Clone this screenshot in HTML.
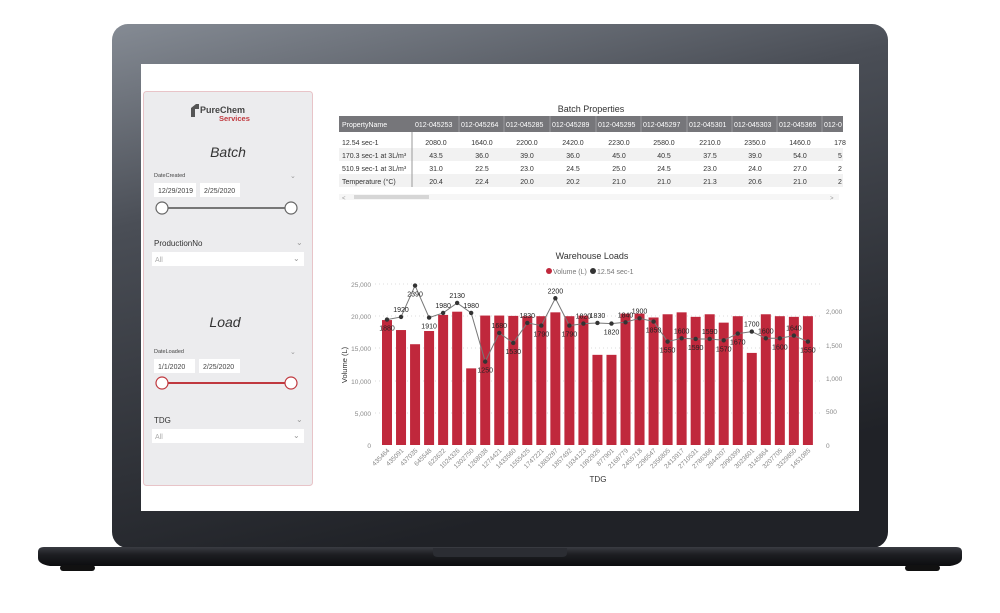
<!DOCTYPE html>
<html><head><meta charset="utf-8"><style>
html,body{margin:0;padding:0;background:#fff;}
svg{display:block;font-family:"Liberation Sans",sans-serif;}
</style></head><body>
<svg width="1000" height="613" viewBox="0 0 1000 613" xmlns="http://www.w3.org/2000/svg">
<defs>
<linearGradient id="lid" x1="0" y1="0" x2="0.35" y2="1">
<stop offset="0" stop-color="#858b94"/><stop offset="0.35" stop-color="#4a4e56"/><stop offset="1" stop-color="#202227"/>
</linearGradient>
<linearGradient id="base" x1="0" y1="0" x2="0" y2="1">
<stop offset="0" stop-color="#3a3c42"/><stop offset="0.4" stop-color="#1d1e22"/><stop offset="1" stop-color="#0c0d0f"/>
</linearGradient>
</defs>
<rect x="112" y="24" width="776" height="524" rx="16" fill="url(#lid)"/>
<rect x="141" y="64" width="718" height="447" fill="#fff"/>
<path d="M44 547 H956 Q962 547 962 552 V558 Q962 564 950 566 H50 Q38 564 38 558 V552 Q38 547 44 547Z" fill="url(#base)"/>
<rect x="60" y="565" width="35" height="6" rx="3" fill="#111"/>
<rect x="905" y="565" width="35" height="6" rx="3" fill="#111"/>
<path d="M433 548 H567 V553 Q567 557 562 557 H438 Q433 557 433 553Z" fill="#2b2d33"/>

<!-- sidebar -->
<rect x="143.5" y="91.5" width="169" height="394" rx="3" fill="#ececee" stroke="#e8c4c8"/>
<path d="M191 108 l5 -4 h3 v5 h-4 v8 h-4z" fill="#555"/>
<text x="200" y="113" font-size="9" font-weight="bold" fill="#444">PureChem</text>
<text x="219" y="121" font-size="7.5" font-weight="bold" fill="#c0393f">Services</text>
<text x="228" y="157" font-size="14" font-style="italic" fill="#333" text-anchor="middle">Batch</text>
<text x="154" y="177" font-size="5.5" fill="#444">DateCreated</text>
<text x="290" y="178" font-size="7" fill="#999">⌄</text>
<rect x="154" y="183" width="42" height="14" fill="#fff"/><text x="158" y="193" font-size="7" fill="#444">12/29/2019</text>
<rect x="200" y="183" width="40" height="14" fill="#fff"/><text x="204" y="193" font-size="7" fill="#444">2/25/2020</text>
<line x1="162" y1="208" x2="291" y2="208" stroke="#777" stroke-width="2"/>
<circle cx="162" cy="208" r="6" fill="#fff" stroke="#666" stroke-width="1.2"/>
<circle cx="291" cy="208" r="6" fill="#fff" stroke="#666" stroke-width="1.2"/>
<text x="154" y="246" font-size="8" fill="#333">ProductionNo</text>
<text x="296" y="245" font-size="8" fill="#999">⌄</text>
<rect x="152" y="252" width="152" height="14" fill="#fff"/><text x="155" y="262" font-size="7" fill="#aaa">All</text><text x="293" y="261" font-size="8" fill="#999">⌄</text>
<text x="225" y="327" font-size="14" font-style="italic" fill="#333" text-anchor="middle">Load</text>
<text x="154" y="353" font-size="5.5" fill="#444">DateLoaded</text>
<text x="290" y="354" font-size="7" fill="#999">⌄</text>
<rect x="154" y="359" width="41" height="14" fill="#fff"/><text x="158" y="369" font-size="7" fill="#444">1/1/2020</text>
<rect x="199" y="359" width="41" height="14" fill="#fff"/><text x="203" y="369" font-size="7" fill="#444">2/25/2020</text>
<line x1="162" y1="383" x2="291" y2="383" stroke="#c0393f" stroke-width="2"/>
<circle cx="162" cy="383" r="6" fill="#fff" stroke="#c0393f" stroke-width="1.2"/>
<circle cx="291" cy="383" r="6" fill="#fff" stroke="#c0393f" stroke-width="1.2"/>
<text x="154" y="423" font-size="8" fill="#333">TDG</text>
<text x="296" y="422" font-size="8" fill="#999">⌄</text>
<rect x="152" y="429" width="152" height="14" fill="#fff"/><text x="155" y="439" font-size="7" fill="#aaa">All</text><text x="293" y="438" font-size="8" fill="#999">⌄</text>

<!-- table -->
<text x="591" y="112" font-size="9" fill="#333" text-anchor="middle">Batch Properties</text>
<rect x="339" y="116" width="504" height="16" fill="#76767a"/>
<rect x="339" y="148" width="504" height="13" fill="#f2f2f2"/>
<rect x="339" y="174" width="504" height="13" fill="#f2f2f2"/>
<line x1="412" y1="132" x2="412" y2="187" stroke="#999"/>
<g font-size="7" fill="#fff">
<text x="342" y="127">PropertyName</text>
<text x="415" y="127">012-045253</text><text x="461" y="127">012-045264</text><text x="506" y="127">012-045285</text><text x="552" y="127">012-045289</text><text x="598" y="127">012-045295</text><text x="643" y="127">012-045297</text><text x="689" y="127">012-045301</text><text x="734" y="127">012-045303</text><text x="779" y="127">012-045365</text><text x="824" y="127">012-0</text>
</g>
<g stroke="#9a9a9e"><line x1="459" y1="116" x2="459" y2="132"/><line x1="504" y1="116" x2="504" y2="132"/><line x1="550" y1="116" x2="550" y2="132"/><line x1="596" y1="116" x2="596" y2="132"/><line x1="641" y1="116" x2="641" y2="132"/><line x1="687" y1="116" x2="687" y2="132"/><line x1="732" y1="116" x2="732" y2="132"/><line x1="777" y1="116" x2="777" y2="132"/><line x1="822" y1="116" x2="822" y2="132"/></g>
<g font-size="7" fill="#333">
<text x="342" y="145">12.54 sec-1</text><text x="342" y="158">170.3 sec-1 at 3L/m³</text><text x="342" y="171">510.9 sec-1 at 3L/m³</text><text x="342" y="184">Temperature (°C)</text>
</g>
<g font-size="7" fill="#333" text-anchor="middle">
<text x="436" y="145">2080.0</text><text x="482" y="145">1640.0</text><text x="527" y="145">2200.0</text><text x="573" y="145">2420.0</text><text x="619" y="145">2230.0</text><text x="664" y="145">2580.0</text><text x="710" y="145">2210.0</text><text x="755" y="145">2350.0</text><text x="800" y="145">1460.0</text><text x="840" y="145">178</text>
<text x="436" y="158">43.5</text><text x="482" y="158">36.0</text><text x="527" y="158">39.0</text><text x="573" y="158">36.0</text><text x="619" y="158">45.0</text><text x="664" y="158">40.5</text><text x="710" y="158">37.5</text><text x="755" y="158">39.0</text><text x="800" y="158">54.0</text><text x="840" y="158">5</text>
<text x="436" y="171">31.0</text><text x="482" y="171">22.5</text><text x="527" y="171">23.0</text><text x="573" y="171">24.5</text><text x="619" y="171">25.0</text><text x="664" y="171">24.5</text><text x="710" y="171">23.0</text><text x="755" y="171">24.0</text><text x="800" y="171">27.0</text><text x="840" y="171">2</text>
<text x="436" y="184">20.4</text><text x="482" y="184">22.4</text><text x="527" y="184">20.0</text><text x="573" y="184">20.2</text><text x="619" y="184">21.0</text><text x="664" y="184">21.0</text><text x="710" y="184">21.3</text><text x="755" y="184">20.6</text><text x="800" y="184">21.0</text><text x="840" y="184">2</text>
</g>
<rect x="339" y="194" width="500" height="6" fill="#f6f6f6"/><rect x="354" y="195" width="75" height="4" fill="#d6d6d6"/>
<text x="342" y="200" font-size="6" fill="#999">&lt;</text><text x="830" y="200" font-size="6" fill="#999">&gt;</text>

<!-- chart -->
<text x="592" y="259" font-size="9" fill="#333" text-anchor="middle">Warehouse Loads</text>
<circle cx="549" cy="271" r="3" fill="#c0283c"/><text x="553" y="274" font-size="7" fill="#777">Volume (L)</text>
<circle cx="593" cy="271" r="3" fill="#333"/><text x="597" y="274" font-size="7" fill="#777">12.54 sec-1</text>
<g stroke="#ddd" stroke-dasharray="1,3"><line x1="375" y1="284" x2="820" y2="284"/><line x1="375" y1="316" x2="820" y2="316"/><line x1="375" y1="348" x2="820" y2="348"/><line x1="375" y1="381" x2="820" y2="381"/><line x1="375" y1="413" x2="820" y2="413"/></g>
<g font-size="6.5" fill="#888" text-anchor="end">
<text x="371" y="287">25,000</text><text x="371" y="319">20,000</text><text x="371" y="351">15,000</text><text x="371" y="384">10,000</text><text x="371" y="416">5,000</text><text x="371" y="448">0</text>
</g>
<g font-size="6.5" fill="#888">
<text x="826" y="314">2,000</text><text x="826" y="348">1,500</text><text x="826" y="381">1,000</text><text x="826" y="414">500</text><text x="826" y="448">0</text>
</g>
<text transform="translate(347,365) rotate(-90)" font-size="7.5" fill="#333" text-anchor="middle">Volume (L)</text>
<text x="598" y="482" font-size="8" fill="#333" text-anchor="middle">TDG</text>
<g id="bars" fill="#c0283c"></g>
<g id="xl" font-size="6.5" fill="#888" text-anchor="end"></g>
<polyline id="ln" fill="none" stroke="#777" stroke-width="1"/>
<g id="pts" fill="#333"></g>
<g id="lbl" font-size="7" fill="#222" text-anchor="middle"></g>
<script>
var v=[19400,17850,15650,17700,20200,20700,11900,20100,20100,20050,20000,20000,20600,20000,20100,14000,14000,20400,20400,19800,20300,20600,19900,20300,19000,20000,14300,20300,20000,19900,20000];
var l=[1880,1920,2390,1910,1980,2130,1980,1250,1680,1530,1830,1790,2200,1790,1820,1830,1820,1840,1900,1850,1550,1600,1590,1590,1570,1670,1700,1600,1600,1640,1550];
var up=[0,1,0,0,1,1,1,0,1,0,1,0,1,0,1,1,0,1,1,0,0,1,0,1,0,0,1,1,0,1,0];
var n=["435464","435091","437035","645548","623622","1024326","1302750","1268038","1274421","1433560","1555425","1747221","1883287","1857492","1934123","1992926","877901","2168779","2455718","2296547","2356805","2413917","2710531","2786366","2844207","2990399","3023601","3145864","3207705","3329850","1451085"];
var ns="http://www.w3.org/2000/svg",b=document.getElementById("bars"),x=document.getElementById("xl"),p=document.getElementById("pts"),lb=document.getElementById("lbl"),pts=[];
function el(t,a,par,txt){var e=document.createElementNS(ns,t);for(var k in a)e.setAttribute(k,a[k]);if(txt)e.textContent=txt;par.appendChild(e);}
for(var i=0;i<31;i++){var cx=387+i*14.03;var h=v[i]/25000*161;
el("rect",{x:cx-5,y:445-h,width:10,height:h},b);
el("text",{transform:"translate("+(cx+3)+",451) rotate(-45)"},x,n[i]);
var ly=445-l[i]*0.0667;pts.push(cx+","+ly);el("circle",{cx:cx,cy:ly,r:2.2},p);
el("text",{x:cx,y:up[i]?ly-5:ly+11},lb,String(l[i]));}
document.getElementById("ln").setAttribute("points",pts.join(" "));
</script>
</svg>
</body></html>
